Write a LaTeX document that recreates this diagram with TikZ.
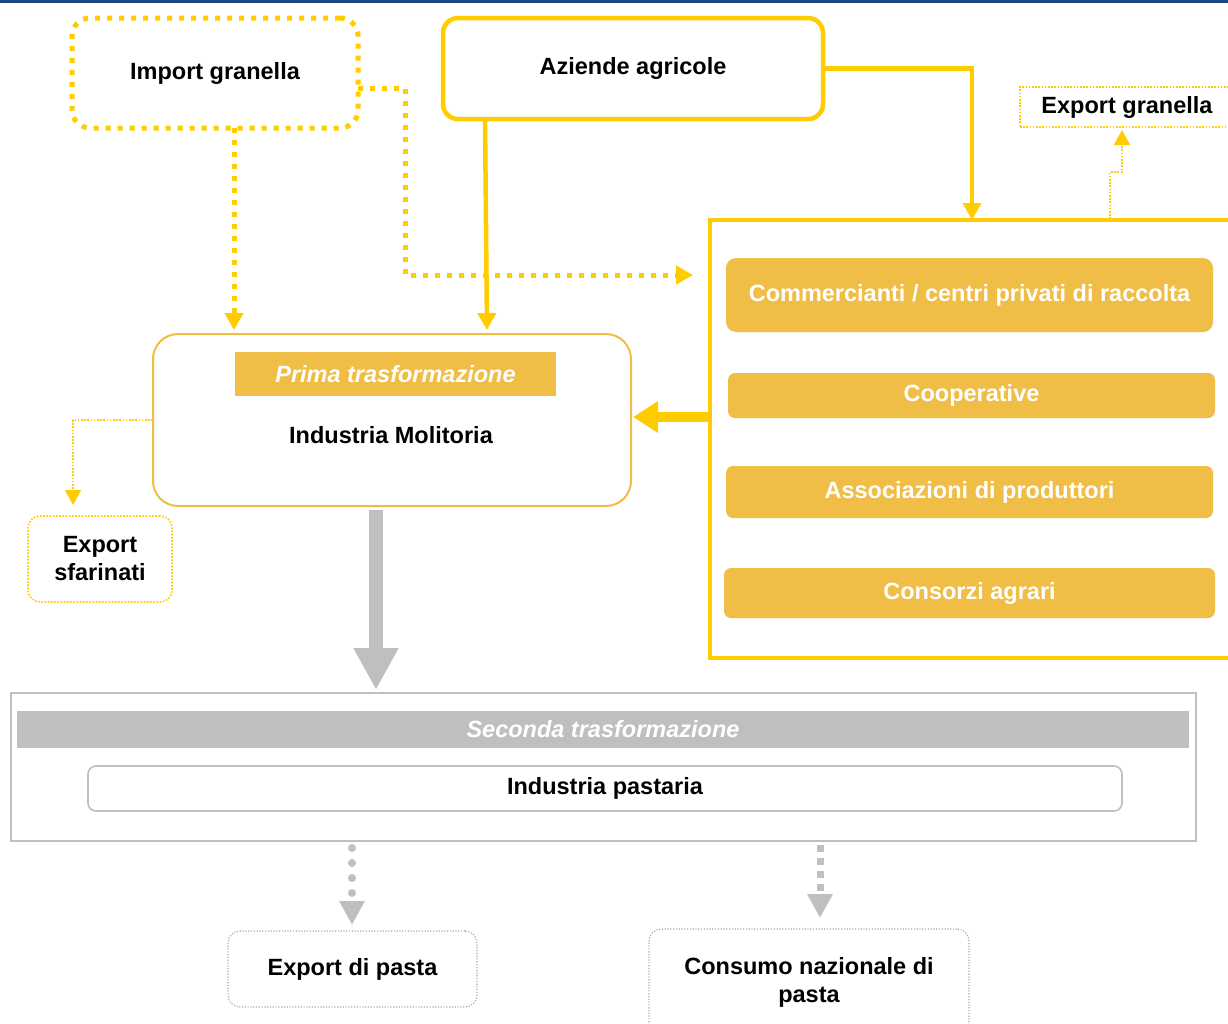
\documentclass[tikz,border=0pt]{standalone}
\usepackage{fontspec}
\setmainfont{Liberation Sans}
\usetikzlibrary{arrows.meta,calc}
\definecolor{ybright}{HTML}{FFCC00}
\definecolor{ygold}{HTML}{F0BE46}
\definecolor{gline}{HTML}{BFBFBF}
\definecolor{topblue}{HTML}{1B4A80}
\begin{document}
\begin{tikzpicture}[x=1pt,y=-1pt,
  font=\fontsize{23.5}{28}\selectfont\bfseries,
  every node/.style={inner sep=0pt, outer sep=0pt, align=center},
  dotbox/.style={draw=ybright, line width=5pt, dash pattern=on 5pt off 7pt, rounded corners=18pt},
  solidbox/.style={draw=ybright, line width=4.5pt, rounded corners=15pt},
  thindot/.style={draw=ybright, line width=1.6pt, dash pattern=on 1.6pt off 1.6pt},
  goldbar/.style={fill=ygold, text=white, rounded corners=10pt},
  greybox/.style={draw=gline, line width=1.6pt},
  greydot/.style={draw=gline!90!black, line width=1.2pt, dash pattern=on 1.2pt off 1.6pt, rounded corners=12pt},
  fatdot/.style={ybright, line width=5pt, dash pattern=on 5pt off 7pt},
  flow/.style={ybright, line width=4.5pt},
  thinflow/.style={ybright, line width=1.6pt, dash pattern=on 1.6pt off 1.6pt},
  ytip/.style={-{Triangle[length=17pt,width=18pt]}},
  stip/.style={-{Triangle[length=15pt,width=16pt]}},
]
\useasboundingbox (0,0) rectangle (1228,1023);
\fill[white] (0,0) rectangle (1228,1023);
\fill[topblue] (0,0) rectangle (1228,2.5);

% sources
\node[dotbox, minimum width=286pt, minimum height=110pt] (imp) at (215,73) {Import granella};
\node[solidbox, minimum width=380pt, minimum height=101pt] (az) at (633,68.5) {Aziende agricole};
\node[thindot, minimum width=214pt, minimum height=40pt] (expg) at (1127,107) {Export granella};

% collectors
\node[draw=ybright, line width=4.5pt, minimum width=540pt, minimum height=438pt] (coll) at (980,439) {};
\node[goldbar, minimum width=487pt, minimum height=74pt] (comm) at (969.5,295) {Commercianti / centri privati di raccolta};
\node[goldbar, rounded corners=7pt, minimum width=487pt, minimum height=45pt] (coop) at (971.5,395.5) {Cooperative};
\node[goldbar, rounded corners=7pt, minimum width=487pt, minimum height=52pt] (assoc) at (969.5,492) {Associazioni di produttori};
\node[goldbar, rounded corners=7pt, minimum width=491pt, minimum height=50pt] (cons) at (969.5,593) {Consorzi agrari};

% first processing
\node[draw=ygold, line width=2pt, rounded corners=25pt, minimum width=478pt, minimum height=172pt] (prima) at (392,420) {};
\node[fill=ygold, text=white, font=\fontsize{23.5}{28}\selectfont\bfseries\itshape, minimum width=321pt, minimum height=44pt] (primah) at (395.5,374) {Prima trasformazione};
\node (molit) at (391,435) {Industria Molitoria};
\node[thindot, rounded corners=12pt, minimum width=144pt, minimum height=86pt] (expsf) at (100,559) {Export\\sfarinati};

% second processing
\node[greybox, minimum width=1185pt, minimum height=148pt] (sec) at (603.5,767) {};
\node[fill=gline, text=white, font=\fontsize{23.5}{28}\selectfont\bfseries\itshape, minimum width=1172pt, minimum height=37pt] (sech) at (603,729.5) {Seconda trasformazione};
\node[greybox, rounded corners=8pt, minimum width=1034pt, minimum height=45pt] (past) at (605,788.5) {Industria pastaria};
\node[greydot, minimum width=249pt, minimum height=76pt] (exppa) at (352.5,969) {Export di pasta};
\node[greydot, minimum width=320pt, minimum height=106pt] (consn) at (809,982) {Consumo nazionale di\\pasta};

% flows from the farms
\draw[flow, ytip] (az.east) -| (coll.north -| 972,0);
\draw[flow, ytip] ([xshift=-148pt]az.south) -- ([yshift=4pt]prima.north -| 487,0);

% flows of imported grain
\draw[fatdot, ytip] (imp.south -| 234,0) -- ([yshift=4pt]prima.north -| 234,0);
\draw[fatdot, ytip] ([yshift=-15pt]imp.east) -- ++(47,0) |- ([xshift=-17pt,yshift=-17pt]coll.west |- comm.north);

% collectors to mills
\draw[ybright, line width=10pt, -{Triangle[length=25pt,width=30pt]}] (coll.west |- 0,417) -- ([xshift=2pt]prima.east |- 0,417);

% grain export
\coordinate (eg1) at ($(coll.north -| 1110,0)+(0,-1)$);
\draw[thinflow, stip] (eg1) |- (1122,172) -- ([yshift=-3pt]expg.south -| 1122,0);

% flour export
\draw[thinflow, stip] (prima.west |- 0,420) -| ([yshift=11pt]expsf.north -| 73,0);

% mills to pasta industry
\draw[gline, line width=14pt, -{Triangle[length=42pt,width=42pt]}] ([yshift=-4pt]prima.south -| 376,0) -- ([yshift=3pt]sec.north -| 376,0);

% pasta outlets
\draw[gline, line width=8pt, line cap=round, dash pattern=on 0pt off 15pt, -{Triangle[length=24pt,width=24pt]}] ([yshift=-7pt]sec.south -| 352,0) -- ([yshift=6pt]exppa.north -| 352,0);
\draw[gline, line width=7pt, dash pattern=on 7pt off 6pt, -{Triangle[length=24pt,width=24pt]}] ([yshift=-4pt]sec.south -| 820,0) -- ([yshift=11pt]consn.north -| 820,0);
\end{tikzpicture}
\end{document}
